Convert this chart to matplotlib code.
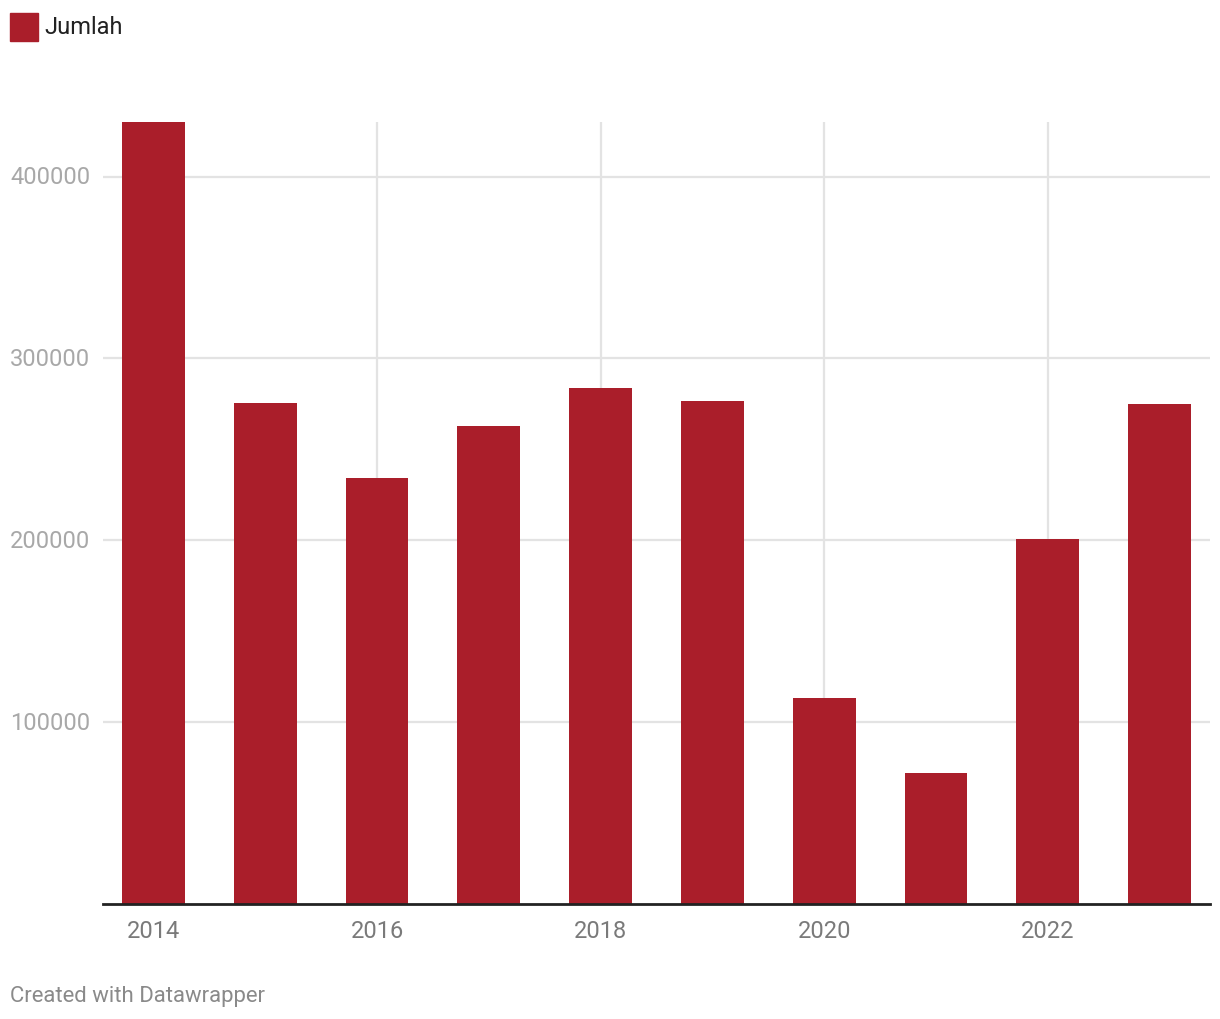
import matplotlib.pyplot as plt
from matplotlib.patches import Rectangle

plt.rcParams["font.family"] = ["Roboto", "DejaVu Sans"]

years = [2014, 2015, 2016, 2017, 2018, 2019, 2020, 2021, 2022, 2023]
jumlah = [430000, 275500, 234200, 262800, 283700, 276600, 113000, 72200, 200500, 274900]
x_ticks = [2014, 2016, 2018, 2020, 2022]
y_ticks = [100000, 200000, 300000, 400000]

W, H = 1220, 1020
fig = plt.figure(figsize=(W / 100, H / 100), dpi=100)
fig.patch.set_facecolor("white")

# axes box in pixels: x 103..1210, y 122..903
ax = fig.add_axes([103 / W, 1 - 905 / H, (1210 - 103) / W, (905 - 123) / H])
ax.set_facecolor("white")

bar_color = "#AA1E2A"
ax.bar(years, jumlah, width=0.563, color=bar_color, zorder=2)

ax.set_xlim(2013.549, 2023.451)
ax.set_ylim(0, 430000)

for v in y_ticks:
    ax.axhline(v, color="#E3E3E3", lw=1.6, zorder=0)
for yr in x_ticks:
    ax.axvline(yr, color="#E3E3E3", lw=1.6, zorder=0)

ax.axhline(0, color="#222222", lw=2, zorder=3, clip_on=False)

for s in ax.spines.values():
    s.set_visible(False)
ax.set_xticks([])
ax.set_yticks([])

for v in y_ticks:
    ax.annotate(f"{v}", xy=(0, v), xycoords=("axes fraction", "data"),
                xytext=(10 - 103, 0), textcoords="offset pixels",
                ha="left", va="center", fontsize=17, color="#A8A8A8")

for yr in x_ticks:
    ax.annotate(f"{yr}", xy=(yr, 0), xycoords=("data", "data"),
                xytext=(0, -27), textcoords="offset pixels",
                ha="center", va="center", fontsize=17, color="#7A7A7A")

# legend
fig.patches.append(Rectangle((10 / W, 1 - 42 / H), 28 / W, 28 / H,
                             transform=fig.transFigure, color=bar_color))
fig.text(44 / W, 1 - 27 / H, "Jumlah", ha="left", va="center",
         fontsize=17, color="#222222")

fig.text(10 / W, 1 - 997 / H, "Created with Datawrapper", ha="left", va="center",
         fontsize=15.9, color="#8A8A8A")

fig.savefig("out.png", dpi=100, facecolor="white")
